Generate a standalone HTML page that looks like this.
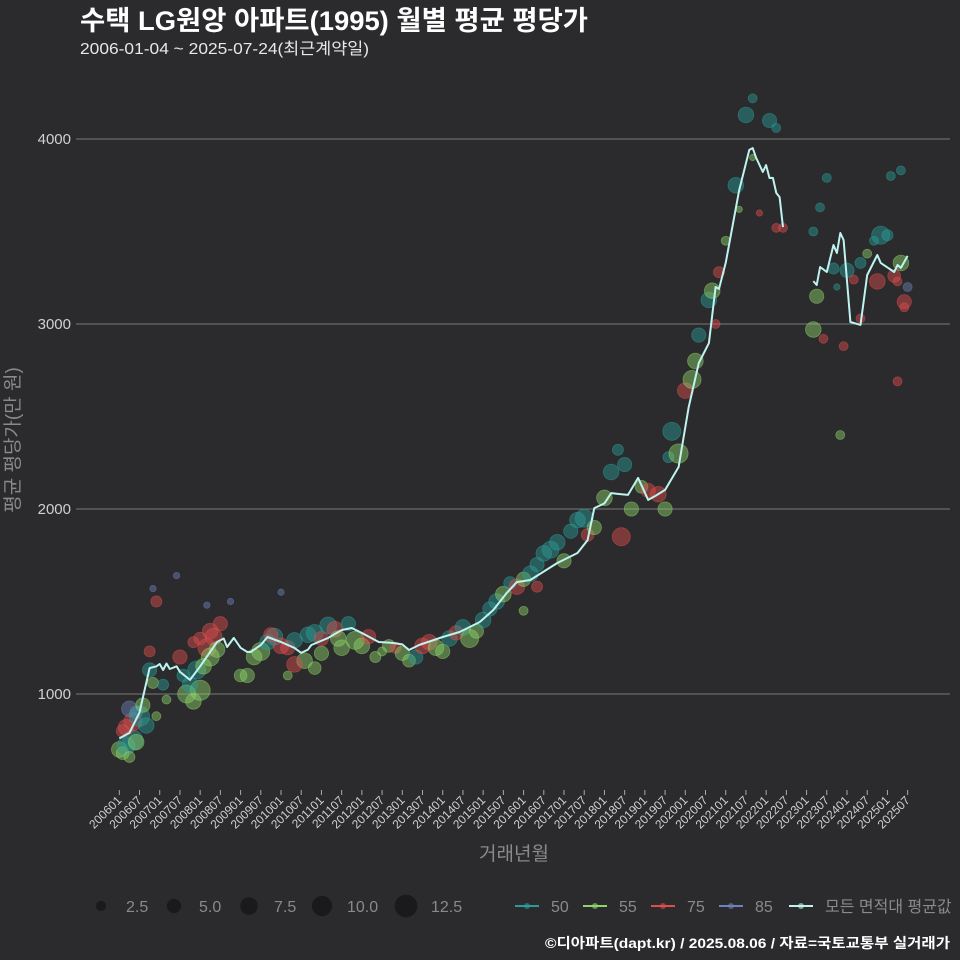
<!DOCTYPE html>
<html><head><meta charset="utf-8">
<style>
html,body{margin:0;padding:0;background:#2b2a2c;}
svg{display:block;font-family:"Liberation Sans","Noto Sans CJK KR",sans-serif;}
</style></head>
<body>
<svg id="chart" width="960" height="960" viewBox="0 0 960 960" xmlns="http://www.w3.org/2000/svg">
<rect width="960" height="960" fill="#2b2a2c"/>
<text x="80" y="30" fill="#ffffff" font-size="27" font-weight="bold" textLength="508" lengthAdjust="spacingAndGlyphs">수택 LG원앙 아파트(1995) 월별 평균 평당가</text>
<text x="80" y="54" fill="#e8e8e8" font-size="16" textLength="289" lengthAdjust="spacingAndGlyphs">2006-01-04 ~ 2025-07-24(최근계약일)</text>
<g id="grid"></g>
<g id="bubbles"></g>
<g id="line"></g>
<g id="xaxis"></g>
<text transform="translate(19,440) rotate(-90)" text-anchor="middle" fill="#8a8a8a" font-size="19">평균 평당가(만 원)</text>
<text x="514" y="860" text-anchor="middle" fill="#8a8a8a" font-size="19">거래년월</text>
<g id="legend"></g>
<text x="950" y="948" text-anchor="end" fill="#ffffff" font-size="14" font-weight="bold" textLength="405" lengthAdjust="spacingAndGlyphs">©디아파트(dapt.kr) / 2025.08.06 / 자료=국토교통부 실거래가</text>
</svg>
<script>
const yTicks = [1000, 2000, 3000, 4000];
const xTickLabels = ["200601","200607","200701","200707","200801","200807","200901","200907","201001","201007","201101","201107","201201","201207","201301","201307","201401","201407","201501","201507","201601","201607","201701","201707","201801","201807","201901","201907","202001","202007","202101","202107","202201","202207","202301","202307","202401","202407","202501","202507"];
// monthly average line: month index (0 = 2006-01), value; null = gap
const lineMonths = [0,3,6,9,11,12,13,14,15,17,18,21,24,29,31,32,34,36,38,39,42,44,48,52,54,56,57,62,66,69,72,77,81,84,86,89,96,101,107,111,115,118,122,130,136,139,141,144,146,149,151,154,157,159,162,166,169,172,175,177,178,180,184,187,188,189,191,192,193,194,195,196,197,null,206,207,208,210,212,213,214,215,217,220,222,225,226,230,231,232,234];
const lineValues = [760,790,900,1140,1150,1162,1130,1165,1135,1150,1120,1076,1150,1281,1300,1254,1303,1250,1227,1227,1265,1308,1281,1249,1222,1240,1265,1303,1346,1357,1330,1281,1276,1268,1238,1265,1308,1335,1389,1454,1546,1605,1616,1708,1762,1832,2005,2030,2086,2080,2076,2168,2049,2070,2103,2227,2551,2789,2897,3200,3190,3330,3724,3941,3951,3900,3822,3859,3789,3790,3708,3686,3524,null,3232,3211,3308,3281,3427,3384,3492,3454,3011,2995,3265,3373,3330,3281,3319,3303,3368];
// bubbles: month, value, count, type
const bubMonths = [0,1,2,3,4,5,1,2,4,3,5,6,7,8,9,10,11,13,14,9,11,10,17,20,22,24,21,18,19,23,25,26,27,28,27,29,26,33,30,24,22,36,38,40,42,44,46,48,50,45,52,55,58,60,52,50,48,56,58,60,62,64,65,66,68,70,72,74,76,78,80,82,84,86,88,90,92,94,96,98,100,102,104,106,108,110,112,114,116,118,120,122,124,126,128,130,124,120,132,134,136,138,139,141,144,146,148,150,149,152,155,157,160,162,163,164,166,168,170,171,172,175,176,177,178,180,183,184,190,186,188,193,195,195,197,188,206,208,210,212,213,216,218,215,214,207,206,209,220,222,224,226,228,229,232,232,230,231,233,233,234,231,225,220];
const bubValues = [700,680,720,660,750,740,800,820,850,920,900,880,940,830,1130,1060,880,1050,970,1230,1500,1570,1640,1000,960,1020,1050,1200,1100,1130,1150,1250,1340,1310,1200,1240,1480,1500,1380,1300,1280,1100,1100,1200,1230,1280,1310,1260,1250,1320,1290,1180,1140,1220,1160,1100,1550,1320,1330,1300,1370,1350,1300,1250,1380,1290,1260,1310,1200,1230,1260,1250,1220,1180,1200,1260,1280,1250,1230,1300,1330,1360,1300,1340,1400,1460,1500,1540,1600,1580,1620,1650,1700,1760,1780,1820,1580,1450,1720,1880,1940,1950,1860,1900,2060,2200,2320,2240,1850,2000,2120,2100,2080,2000,2280,2420,2300,2640,2700,2800,2940,3130,3180,3000,3280,3450,3750,3620,3600,4130,4220,4100,4060,3520,3520,3900,3500,3630,3790,3300,3200,3290,3240,2880,2400,3150,2970,2920,3030,3380,3450,3480,3480,3800,3830,3330,3260,3230,3120,3090,3200,2690,3230,3330];
const bubCounts = [6,4,8,3,10,6,4,6,8,6,4,10,5,6,5,3,2,3,2,3,3,1,1,8,6,10,6,5,4,8,6,8,6,7,8,6,1,1,5,4,3,4,5,6,8,6,7,6,5,5,6,6,4,5,6,2,1,6,7,5,7,6,6,6,5,8,6,5,3,2,4,3,5,4,5,6,6,6,5,6,5,6,8,5,6,5,6,6,4,6,5,6,5,6,7,6,3,2,5,5,6,8,4,5,6,6,3,5,8,5,4,5,6,5,3,8,9,6,8,6,5,6,6,2,3,2,6,1,1,6,2,5,2,2,2,1,2,2,2,3,1,5,2,2,2,5,6,2,2,2,2,8,3,2,2,6,4,2,5,2,2,2,6,3];
const bubTypes = [1,1,0,1,0,1,2,2,2,3,3,0,1,0,0,1,1,0,1,2,2,3,3,1,1,1,0,2,0,0,1,2,2,2,1,1,3,3,2,2,2,1,1,1,1,0,0,2,2,2,0,1,1,1,2,1,3,0,0,2,0,2,1,1,0,1,1,2,1,1,1,2,1,1,0,2,2,1,1,0,2,0,1,1,0,0,0,1,0,2,1,0,0,0,0,0,2,1,1,0,0,0,2,1,1,0,0,0,2,1,1,2,2,1,0,0,1,2,1,1,0,0,1,2,2,1,0,1,2,0,0,0,0,2,2,1,0,0,0,0,0,0,2,2,1,1,1,2,2,1,0,0,0,0,0,1,2,2,2,2,3,2,2,0];
const typeNames = ["50","55","75","85"];
const typeColors = ["#2a9d9a","#8fd46a","#e04d4d","#6d82b8"];

const NS = "http://www.w3.org/2000/svg";
const X0 = 119.3, XS = 3.369, Y1000 = 694, YS = 0.185;
function xs(m){ return X0 + m*XS; }
function ys(v){ return Y1000 - (v-1000)*YS; }
function mk(tag, attrs, parent){ const e=document.createElementNS(NS,tag); for(const k in attrs) e.setAttribute(k,attrs[k]); parent.appendChild(e); return e; }

const grid = document.getElementById('grid');
yTicks.forEach(t=>{
  const l = mk('line',{x1:76,x2:950,y1:ys(t),y2:ys(t),stroke:'#7a7a7a','stroke-width':1},grid);
  
  
  const tx = mk('text',{x:71,y:ys(t)+5,'text-anchor':'end',fill:'#d0d0d0','font-size':15},grid);
  tx.textContent = t;
  
  
});

const xa = document.getElementById('xaxis');
xTickLabels.forEach((lab,i)=>{
  const x = xs(i*6);
  const tk = mk('line',{x1:x,x2:x,y1:790,y2:795,stroke:'#aaaaaa','stroke-width':1},xa);
  
  
  const tx = mk('text',{transform:`translate(${x+3},${801}) rotate(-45)`,'text-anchor':'end',fill:'#d0d0d0','font-size':12},xa);
  tx.textContent = lab;
  
  
});

const bg = document.getElementById('bubbles');
bubMonths.forEach((m,i)=>{
  const c = mk('circle',{cx:xs(m),cy:ys(bubValues[i]),r:3.2*Math.sqrt(bubCounts[i]),fill:typeColors[bubTypes[i]],'fill-opacity':0.45,stroke:typeColors[bubTypes[i]],'stroke-opacity':0.5,'stroke-width':0.8},bg);
  
  
});

const lg = document.getElementById('line');
let d = '', pen = false;
lineMonths.forEach((m,i)=>{
  if(m===null || lineValues[i]===null){ pen=false; return; }
  d += (pen?'L':'M') + xs(m).toFixed(1) + ',' + ys(lineValues[i]).toFixed(1) + ' ';
  pen = true;
});
const p = mk('path',{d:d,fill:'none',stroke:'#bff3f0','stroke-width':2,'stroke-linejoin':'round'},lg);



// legend
const leg = document.getElementById('legend');
const sizeVals = [2.5,5.0,7.5,10.0,12.5];
const sizeX = [101,174,249,322,406];
const sizeLabX = [126,199,274,347,431];
sizeVals.forEach((s,i)=>{
  const c = mk('circle',{cx:sizeX[i],cy:906,r:3.2*Math.sqrt(s),fill:'#1a191b'},leg);
  
  
  const t = mk('text',{x:sizeLabX[i],y:912,fill:'#8a8a8a','font-size':16},leg);
  t.textContent = s.toFixed(1);
  
  
});
const legItems = ["50","55","75","85","모든 면적대 평균값"];
const legColors = ["#2a9d9a","#8fd46a","#e04d4d","#6d82b8","#bff3f0"];
const legX = [527,595,663,731,801];
legItems.forEach((n,i)=>{
  const g = mk('g',{},leg);
  
  
  mk('line',{x1:legX[i]-12,x2:legX[i]+12,y1:906,y2:906,stroke:legColors[i],'stroke-width':2},g);
  mk('circle',{cx:legX[i],cy:906,r:3,fill:legColors[i],'fill-opacity':0.6},g);
  const t = mk('text',{x:legX[i]+24,y:912,fill:'#8a8a8a','font-size':16},g);
  t.textContent = n;
});
</script>
</body></html>
